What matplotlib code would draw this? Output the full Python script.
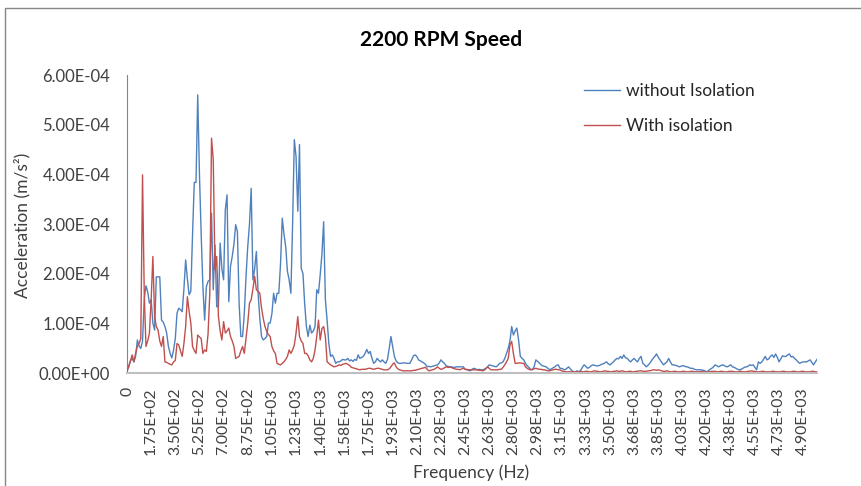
import numpy as np
import matplotlib
matplotlib.use("Agg")
import matplotlib.pyplot as plt
from matplotlib.patches import Rectangle

# ---------------- data (values in units of 1e-5 m/s^2) ----------------
FREQ_STEP_HZ = 12.5

without_isolation = [
    0.7, 1.2, 2.5, 3.0, 2.3, 3.5, 6.7, 5.5, 5.0, 6.5,
    15.0, 17.6, 16.4, 14.1, 14.8, 10.1, 8.7, 19.4, 19.4, 19.4,
    10.7, 10.3, 9.4, 8.1, 5.4, 4.0, 3.1, 4.7, 7.0, 12.1,
    13.1, 12.8, 12.4, 17.0, 22.8, 19.0, 15.8, 16.5, 28.0, 38.4,
    38.4, 56.0, 40.0, 28.0, 17.4, 10.7, 17.4, 18.5, 18.8, 32.2,
    16.8, 25.8, 13.4, 13.4, 26.2, 21.0, 18.8, 32.9, 35.9, 14.4,
    21.5, 23.5, 26.0, 29.9, 28.5, 14.0, 7.4, 7.4, 12.0, 19.5,
    25.5, 30.0, 37.2, 18.8, 21.0, 24.5, 16.1, 11.0, 7.4, 6.7,
    7.0, 7.4, 10.1, 10.1, 12.0, 16.1, 14.1, 16.1, 16.1, 22.0,
    31.2, 28.0, 25.5, 20.5, 18.8, 16.1, 30.0, 47.0, 43.6, 32.6,
    46.0, 21.1, 20.1, 14.0, 9.4, 7.4, 9.7, 8.1, 8.5, 9.4,
    16.8, 16.1, 19.8, 24.0, 30.5, 14.8, 10.7, 6.0, 3.4, 3.7,
    3.0, 2.0, 2.3, 2.3, 2.5, 2.8, 2.7, 2.7, 3.0, 2.5,
    2.7, 2.4, 2.8, 2.6, 3.7, 3.0, 3.2, 3.4, 4.0, 4.8,
    4.0, 4.4, 3.0, 2.0, 2.3, 3.0, 2.6, 2.3, 2.7, 2.3,
    2.0, 2.8, 5.0, 7.4, 5.4, 3.4, 2.5, 2.1, 2.0, 2.0,
    2.1, 2.1, 2.0, 2.0, 2.0, 2.7, 3.5, 3.7, 3.4, 2.7,
    2.5, 2.3, 2.1, 1.8, 1.3, 1.4, 1.3, 1.4, 1.5, 1.6,
    1.7, 2.1, 2.7, 2.3, 2.0, 1.5, 1.4, 1.3, 1.3, 1.2,
    1.2, 1.3, 1.3, 1.3, 1.3, 1.3, 0.8, 0.7, 0.6, 0.5,
    0.8, 1.0, 0.9, 0.7, 0.8, 0.7, 0.7, 0.8, 1.0, 1.3,
    1.7, 1.6, 1.5, 1.4, 1.3, 1.6, 2.0, 2.1, 2.3, 3.0,
    4.0, 5.0, 6.5, 9.4, 7.7, 8.5, 9.1, 6.7, 3.4, 3.0,
    2.7, 2.0, 1.5, 1.2, 0.8, 0.7, 1.3, 2.7, 2.4, 2.1,
    1.7, 1.5, 1.4, 1.3, 1.0, 0.7, 0.9, 1.1, 1.3, 1.6,
    1.7, 1.0, 1.0, 0.8, 0.7, 1.0, 1.3, 0.9, 0.5, 0.3,
    0.3, 0.5, 0.3, 0.6, 1.2, 1.7, 1.4, 1.0, 1.2, 1.5,
    1.7, 1.6, 1.5, 1.5, 1.6, 1.8, 1.9, 2.1, 2.3, 1.9,
    1.7, 2.0, 2.3, 2.7, 3.0, 2.9, 3.4, 3.0, 3.7, 3.1,
    3.0, 2.6, 2.3, 2.7, 3.0, 2.6, 2.3, 3.0, 3.4, 2.0,
    1.7, 1.3, 1.6, 2.0, 2.5, 3.0, 3.4, 3.9, 3.2, 2.7,
    2.2, 1.7, 2.0, 2.3, 3.0, 2.3, 1.7, 1.7, 1.6, 1.5,
    1.3, 1.4, 1.5, 1.5, 1.3, 1.3, 1.1, 1.0, 1.0, 0.8,
    0.7, 0.7, 0.7, 0.7, 0.6, 0.5, 0.3, 0.5, 0.8, 1.0,
    1.3, 1.7, 1.5, 1.3, 1.5, 1.7, 1.6, 1.4, 1.3, 1.5,
    1.7, 1.3, 1.2, 1.0, 0.8, 0.7, 0.8, 1.0, 1.2, 1.3,
    1.4, 1.7, 1.6, 1.7, 1.2, 0.7, 2.3, 2.0, 2.3, 2.8,
    3.4, 2.7, 2.9, 3.4, 3.7, 3.2, 3.9, 3.2, 2.3, 2.9,
    3.5, 3.4, 3.4, 3.7, 3.9, 3.3, 3.4, 3.0, 2.7, 2.3,
    2.0, 2.2, 2.3, 2.3, 2.3, 2.5, 2.7, 2.2, 1.7, 2.3,
    2.8,
]

with_isolation = [
    0.3, 1.5, 2.5, 3.7, 2.3, 4.0, 5.4, 6.0, 7.0, 39.9,
    16.0, 5.4, 6.5, 8.1, 14.8, 23.5, 11.4, 9.4, 8.7, 6.5,
    5.4, 7.4, 2.3, 2.2, 2.0, 1.8, 1.7, 2.3, 2.6, 6.0,
    5.7, 4.5, 3.4, 6.0, 9.4, 15.4, 12.5, 10.1, 5.4, 4.6,
    4.0, 7.7, 7.3, 7.0, 4.0, 4.7, 4.4, 8.0, 16.1, 47.3,
    43.0, 20.8, 23.5, 11.4, 8.5, 6.7, 10.4, 8.1, 8.5, 9.1,
    7.4, 6.5, 5.4, 3.0, 3.2, 3.4, 4.5, 5.4, 4.0, 7.0,
    10.1, 14.1, 14.8, 17.0, 19.5, 16.8, 16.5, 16.1, 13.1, 11.0,
    9.4, 8.4, 7.8, 7.4, 5.4, 4.5, 4.0, 2.0, 1.8, 1.7,
    2.0, 2.3, 2.8, 3.4, 4.7, 4.0, 4.7, 5.7, 8.1, 11.4,
    7.4, 6.5, 6.0, 4.0, 4.0, 3.5, 2.7, 2.3, 3.0, 4.7,
    7.4, 10.7, 6.7, 9.0, 9.4, 7.4, 2.3, 2.0, 1.7, 1.5,
    1.3, 1.4, 1.5, 1.7, 1.6, 1.8, 1.9, 2.0, 1.8, 1.6,
    1.2, 1.1, 1.0, 0.9, 0.8, 0.7, 0.8, 0.8, 0.8, 0.9,
    1.0, 1.0, 0.9, 0.8, 0.9, 1.0, 1.0, 0.9, 0.8, 0.7,
    0.7, 0.7, 0.9, 1.3, 1.8, 2.1, 1.3, 0.9, 0.7, 0.6,
    0.5, 0.5, 0.5, 0.5, 0.5, 0.5, 0.6, 0.6, 0.7, 0.8,
    0.9, 1.0, 1.1, 1.2, 0.8, 0.5, 0.6, 0.7, 0.8, 1.0,
    1.3, 1.0, 0.8, 0.9, 1.1, 1.3, 1.2, 1.2, 1.2, 1.0,
    0.9, 0.8, 0.8, 0.7, 0.9, 1.0, 0.8, 0.8, 0.7, 0.7,
    0.7, 0.7, 0.7, 0.7, 0.6, 0.6, 0.5, 0.6, 0.9, 1.3,
    1.0, 0.7, 0.7, 0.7, 0.7, 0.7, 0.8, 0.8, 1.2, 1.7,
    2.3, 3.0, 5.7, 6.4, 4.0, 2.0, 2.0, 2.1, 2.1, 2.0,
    2.0, 1.3, 1.0, 0.8, 0.7, 0.8, 0.9, 1.0, 0.9, 0.8,
    0.8, 0.7, 0.7, 0.6, 0.5, 0.5, 0.6, 0.7, 0.8, 0.8,
    0.7, 0.7, 0.5, 0.4, 0.3, 0.3, 0.3, 0.3, 0.3, 0.3,
    0.3, 0.3, 0.3, 0.4, 0.3, 0.3, 0.4, 0.4, 0.3, 0.3,
    0.4, 0.5, 0.4, 0.4, 0.3, 0.3, 0.4, 0.5, 0.4, 0.4,
    0.3, 0.3, 0.4, 0.4, 0.5, 0.4, 0.4, 0.5, 0.4, 0.3,
    0.3, 0.4, 0.4, 0.3, 0.3, 0.4, 0.4, 0.5, 0.5, 0.4,
    0.4, 0.4, 0.5, 0.5, 0.6, 0.7, 0.7, 0.6, 0.7, 0.6,
    0.5, 0.4, 0.4, 0.5, 0.4, 0.3, 0.3, 0.4, 0.4, 0.3,
    0.3, 0.3, 0.4, 0.4, 0.3, 0.3, 0.3, 0.4, 0.4, 0.3,
    0.3, 0.3, 0.3, 0.4, 0.3, 0.3, 0.3, 0.3, 0.3, 0.4,
    0.4, 0.4, 0.3, 0.3, 0.4, 0.4, 0.3, 0.3, 0.3, 0.4,
    0.4, 0.4, 0.3, 0.3, 0.3, 0.4, 0.4, 0.3, 0.3, 0.3,
    0.4, 0.4, 0.5, 0.4, 0.4, 0.3, 0.3, 0.3, 0.4, 0.4,
    0.3, 0.3, 0.3, 0.3, 0.4, 0.4, 0.3, 0.3, 0.3, 0.3,
    0.4, 0.4, 0.3, 0.3, 0.3, 0.3, 0.4, 0.4, 0.3, 0.3,
    0.3, 0.4, 0.4, 0.3, 0.3, 0.3, 0.3, 0.4, 0.4, 0.3,
    0.3,
]

x_tick_hz = [0, 175, 350, 525, 700, 875, 1050, 1225, 1400, 1575, 1750, 1925,
             2100, 2275, 2450, 2625, 2800, 2975, 3150, 3325, 3500, 3675, 3850,
             4025, 4200, 4375, 4550, 4725, 4900]
x_tick_labels = ["0", "1.75E+02", "3.50E+02", "5.25E+02", "7.00E+02", "8.75E+02",
                 "1.05E+03", "1.23E+03", "1.40E+03", "1.58E+03", "1.75E+03",
                 "1.93E+03", "2.10E+03", "2.28E+03", "2.45E+03", "2.63E+03",
                 "2.80E+03", "2.98E+03", "3.15E+03", "3.33E+03", "3.50E+03",
                 "3.68E+03", "3.85E+03", "4.03E+03", "4.20E+03", "4.38E+03",
                 "4.55E+03", "4.73E+03", "4.90E+03"]
y_ticks = [0.0, 1e-4, 2e-4, 3e-4, 4e-4, 5e-4, 6e-4]
y_tick_labels = ["0.00E+00", "1.00E-04", "2.00E-04", "3.00E-04", "4.00E-04",
                 "5.00E-04", "6.00E-04"]

series_names = ["without Isolation", "With isolation"]
title = "2200 RPM Speed"
x_title = "Frequency (Hz)"
y_title = "Acceleration (m/s²)"

# ---------------- plotting ----------------
plt.rcParams['font.family'] = ['Lato', 'DejaVu Sans']
W, H = 861, 486
fig = plt.figure(figsize=(W / 100, H / 100), dpi=100)
fig.patch.set_facecolor("white")

left, right, top, bottom = 127, 817, 75, 373.3
ax = fig.add_axes([left / W, 1 - bottom / H, (right - left) / W, (bottom - top) / H])

blue = np.array(without_isolation) * 1e-5
red = np.array(with_isolation) * 1e-5
freq = np.arange(len(blue)) * FREQ_STEP_HZ

ax.plot(freq, blue, color="#4F81BD", lw=1.0, label=series_names[0], zorder=3)
ax.plot(freq, red, color="#C0504D", lw=1.0, label=series_names[1], zorder=4)

ax.set_xlim(0, freq[-1])
ax.set_ylim(0, 6e-4)
ax.set_yticks(y_ticks)
ax.set_yticklabels(y_tick_labels)
ax.set_xticks(x_tick_hz)
ax.set_xticklabels(x_tick_labels, rotation=90, va="top", ha="center")

ax.tick_params(axis="both", length=0, colors="#404040")
ax.tick_params(axis="y", pad=12, labelsize=12)
ax.tick_params(axis="x", pad=10, labelsize=11.3)

for s in ["top", "right"]:
    ax.spines[s].set_visible(False)
ax.spines["left"].set_color("#868686")
ax.spines["left"].set_linewidth(0.8)
ax.spines["bottom"].set_color("#BFBFBF")
ax.spines["bottom"].set_linewidth(1.5)
ax.spines["bottom"].set_zorder(5)

leg = ax.legend(loc="upper left",
                bbox_to_anchor=((584 - left) / (right - left), 1 - (83 - top) / (bottom - top)),
                frameon=False, fontsize=12.5, handlelength=2.1, handletextpad=0.3,
                labelspacing=1.1, borderaxespad=0, borderpad=0)
for t in leg.get_texts():
    t.set_color("#262626")

fig.text(441 / W, 1 - 40 / H, title, ha="center", va="center", fontsize=15,
         fontweight="bold", color="#000000")
fig.text(471 / W, 1 - 473 / H, x_title, ha="center", va="center", fontsize=12.5, color="#404040")
fig.text(22 / W, 1 - 225 / H, y_title, ha="center", va="center", rotation=90,
         fontsize=12.5, color="#404040")

# chart-area border (top and left visible)
fig.patches.append(Rectangle((4.5 / W, -0.1), 1.2, 1 - 8.5 / H + 0.1, transform=fig.transFigure,
                             fill=False, edgecolor="#868686", lw=1.0))

fig.savefig("out.png", dpi=100, facecolor="white")
